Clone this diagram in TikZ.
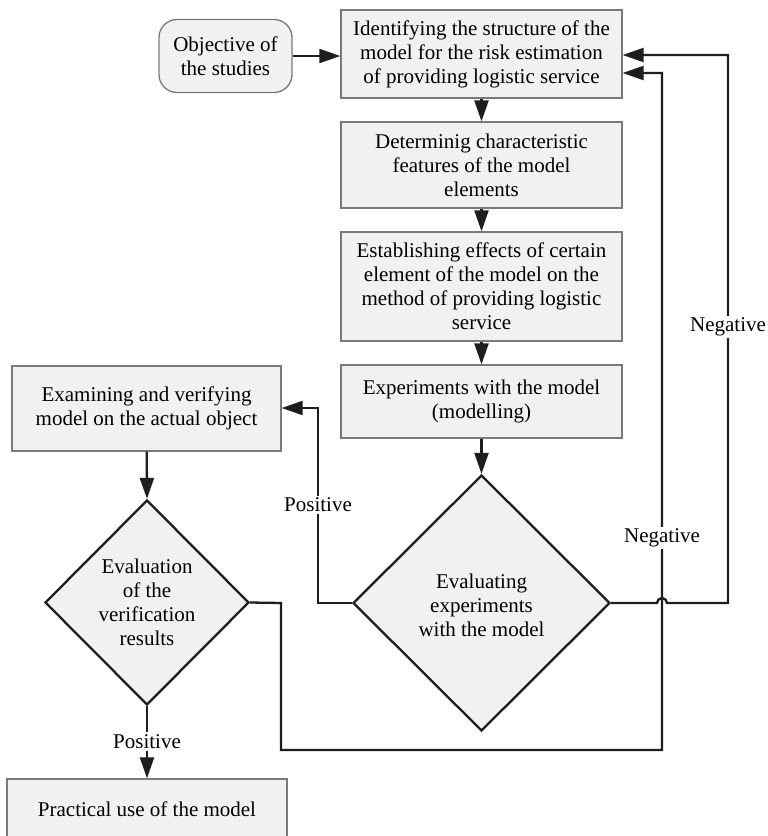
\documentclass[tikz,border=0pt]{standalone}
\usepackage{fontspec}
\setmainfont{Liberation Serif}
\usetikzlibrary{arrows.meta,shapes.geometric}
\definecolor{boxfill}{HTML}{F0F1F3}
\definecolor{boxdraw}{HTML}{7A7A7A}
\definecolor{lineclr}{HTML}{1E1E1E}
\begin{document}
\begin{tikzpicture}[x=1pt,y=1pt,
  txt/.style={font=\fontsize{21}{24}\selectfont, align=center},
  box/.style={txt, draw=boxdraw, line width=1.3pt, fill=boxfill, inner sep=0pt, anchor=center},
  dia/.style={shape=diamond, draw=lineclr, line width=2.3pt, fill=boxfill, inner sep=0pt},
  conn/.style={draw=lineclr, line width=2.3pt},
  arr/.style={conn, -{Triangle[length=21pt,width=14pt]}},
  lbl/.style={txt, fill=white, inner sep=2pt}]
\useasboundingbox (0,0) rectangle (768,-836);

% nodes
\node[box, rounded corners=18pt, minimum width=133pt, minimum height=73pt] (obj) at (225.5,-56) {Objective of\\the studies};
\node[box, minimum width=281pt, minimum height=88pt] (b1) at (481.5,-54) {Identifying the structure of the\\model for the risk estimation\\of providing logistic service};
\node[box, minimum width=281pt, minimum height=86pt] (b2) at (481.5,-165) {Determinig characteristic\\features of the model\\elements};
\node[box, minimum width=281pt, minimum height=109pt] (b3) at (481.5,-286.5) {Establishing effects of certain\\element of the model on the\\method of providing logistic\\service};
\node[box, minimum width=281pt, minimum height=73pt] (b4) at (481.5,-401.5) {Experiments with the model\\(modelling)};
\node[box, minimum width=269pt, minimum height=85pt] (exam) at (146.5,-408.5) {Examining and verifying\\model on the actual object};
\node[dia, minimum width=257pt, minimum height=256pt] (d2) at (481.5,-603) {};
\node[txt] (d2t) at ([yshift=-2pt]d2.center) {Evaluating\\experiments\\with the model};
\node[dia, minimum width=204pt, minimum height=205pt] (d1) at (147,-602.5) {};
\node[txt] (d1t) at (d1.center) {Evaluation\\of the\\verification\\results};
\node[box, minimum width=280pt, minimum height=60pt] (prac) at (147,-809) {Practical use of the model};

% helper coordinates
\coordinate (ra) at (728,-55);
\coordinate (rb) at (728,-603);
\coordinate (j1) at (657,-603);
\coordinate (ma) at (662,-73);
\coordinate (mb) at (662,-750);
\coordinate (la) at (281,-603);
\coordinate (lb) at (281,-750);
\coordinate (pa) at (318,-603);
\coordinate (pb) at (318,-408);

% connectors
\draw[arr] (obj.east) -- (b1.west |- obj.east);
\draw[arr] (b1) -- (b2);
\draw[arr] (b2) -- (b3);
\draw[arr] (b3) -- (b4);
\draw[arr] (b4) -- (d2.north);
\draw[arr] (exam) -- (d1.north);
\draw[arr] (d1.south) -- (prac.north);
\draw[arr] (d2.west) -- (pa) -- (pb) -- (exam.east |- pb);
\draw[arr] (d1.east) -- (la) -- (lb) -- (mb) -- (ma) -- (b1.east |- ma);
\draw[arr] (d2.east) -- (j1) arc[start angle=180, end angle=0, radius=5pt] -- (rb) -- (ra) -- (b1.east |- ra);

% labels
\node[lbl] (neg1) at (728,-327) {Negative};
\node[lbl] (neg2) at (662,-538) {Negative};
\node[lbl] (pos1) at (318,-505) {Positive};
\node[lbl] (pos2) at (147,-741.5) {Positive};
\end{tikzpicture}
\end{document}
